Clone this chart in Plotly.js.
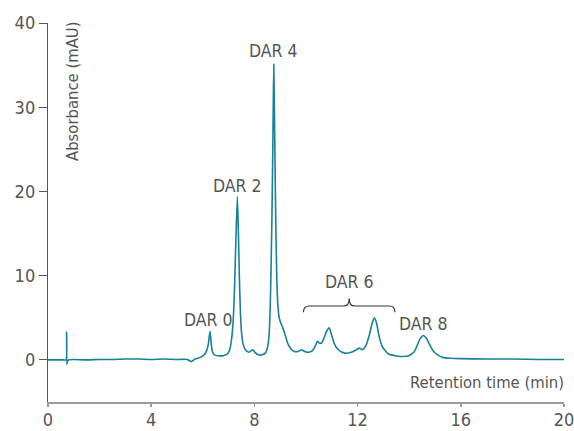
<!DOCTYPE html>
<html>
<head>
<meta charset="utf-8">
<script src="https://cdn.plot.ly/plotly-3.0.1.min.js"></script>
<style>
  html, body { margin: 0; padding: 0; background: #fff; }
  #chart { width: 574px; height: 431px; }
</style>
</head>
<body>
<div id="chart"></div>
<script>
/* ── Chromatogram (min, mAU) ── */
var time = [
  0, 0.3, 0.6, 0.7, 0.72, 0.73, 0.75, 0.8, 1.0, 1.5, 2.0, 2.5, 3.0, 3.5, 4.0, 4.5, 5.0, 5.4, 5.55, 5.7,
  5.9, 6.05, 6.15, 6.22, 6.28, 6.33, 6.38, 6.45, 6.6, 6.8, 6.95, 7.05, 7.12, 7.18, 7.23, 7.28, 7.34, 7.38,
  7.42, 7.46, 7.5, 7.56, 7.65, 7.78, 7.88, 7.94, 8.02, 8.15, 8.3, 8.42, 8.5, 8.56, 8.6, 8.64, 8.68, 8.72,
  8.75, 8.79, 8.83, 8.87, 8.91, 8.96, 9.02, 9.1, 9.2, 9.3, 9.42, 9.55, 9.7, 9.83, 9.95, 10.1, 10.25, 10.35,
  10.45, 10.52, 10.6, 10.7, 10.8, 10.9, 11.0, 11.1, 11.25, 11.5, 11.75, 11.95, 12.07, 12.18, 12.32, 12.45,
  12.56, 12.65, 12.74, 12.84, 12.97, 13.2, 13.45, 13.7, 13.95, 14.1, 14.22, 14.32, 14.42, 14.55, 14.68,
  14.81, 14.95, 15.1, 15.3, 15.6, 16.0, 17, 18, 19, 20
];
var absorbance = [
  0, 0, 0, 0, 3.3, -0.5, -0.2, 0, 0.05, 0, 0.05, 0.05, 0.1, 0.1, 0.05, 0.1, 0.05, 0.05, -0.2, 0.1,
  0.3, 0.6, 1.1, 2.0, 3.4, 1.8, 0.9, 0.6, 0.5, 0.5, 0.7, 1.3, 2.6, 4.8, 8.5, 14, 19.4, 15,
  9.5, 5.5, 3.3, 1.9, 1.2, 0.9, 1.1, 1.2, 0.9, 0.6, 0.6, 0.8, 1.4, 2.6, 5, 10, 17, 27,
  35.1, 26, 16, 9.6, 6.5, 5.0, 4.4, 3.8, 2.9, 1.9, 1.3, 1.0, 1.0, 1.2, 1.0, 0.9, 1.1, 1.6,
  2.2, 2.0, 2.0, 2.6, 3.4, 3.8, 2.9, 1.9, 1.2, 0.8, 0.9, 1.2, 1.4, 1.2, 1.7, 2.9,
  4.3, 5.0, 4.3, 2.7, 1.5, 0.7, 0.5, 0.4, 0.45, 0.7, 1.1, 1.8, 2.5, 2.9, 2.5,
  1.7, 1.0, 0.6, 0.3, 0.2, 0.15, 0.1, 0.1, 0.05, 0.05
];

/* ── Peak labels ── */
var peakNames = ['DAR 0', 'DAR 2', 'DAR 4', 'DAR 6', 'DAR 8'];
var peakLabelX = [6.24, 7.33, 8.74, 11.67, 14.55];
var peakLabelY = [4.7, 20.7, 36.7, 9.2, 4.3];

/* ── DAR 6 brace (min, mAU) ── */
var braceFrom = 9.9, braceTo = 13.45, braceLevel = 6.4, braceDrop = 0.75, braceTip = 7.3;

/* ── Axes ── */
var xTicks = [0, 4, 8, 12, 16, 20];
var yTicks = [0, 10, 20, 30, 40];

(function () {
  'use strict';

  var FONT = '"DejaVu Sans Condensed", "Liberation Sans Narrow", sans-serif';
  var GREY = '#555555';
  var LINE = '#17809a';

  /* curly brace, middle pointing up */
  function bracePath() {
    var rx = 0.22, cx = (braceFrom + braceTo) / 2, y = braceLevel;
    return 'M' + braceFrom + ',' + (y - braceDrop) +
      ' Q' + braceFrom + ',' + y + ' ' + (braceFrom + rx) + ',' + y +
      ' L' + (cx - rx) + ',' + y +
      ' Q' + cx + ',' + y + ' ' + cx + ',' + braceTip +
      ' Q' + cx + ',' + y + ' ' + (cx + rx) + ',' + y +
      ' L' + (braceTo - rx) + ',' + y +
      ' Q' + braceTo + ',' + y + ' ' + braceTo + ',' + (y - braceDrop);
  }

  var ann = peakNames.map(function (name, i) {
    return {
      x: peakLabelX[i], y: peakLabelY[i], xref: 'x', yref: 'y',
      text: name, showarrow: false,
      xanchor: 'center', yanchor: 'middle',
      font: { family: FONT, size: 17.5, color: GREY },
    };
  });

  /* y title sits inside the plot */
  ann.push({
    x: 0.0465, y: 1, xref: 'paper', yref: 'paper',
    text: 'Absorbance (mAU)', textangle: -90, showarrow: false,
    xanchor: 'center', yanchor: 'top', yshift: 4,
    font: { family: FONT, size: 16.5, color: GREY },
  });

  /* x title above the axis, right aligned */
  ann.push({
    x: 1, y: -2.7, xref: 'paper', yref: 'y',
    text: 'Retention time (min)', showarrow: false,
    xanchor: 'right', yanchor: 'middle', xshift: 2,
    font: { family: FONT, size: 16.5, color: GREY },
  });

  var traces = [{
    x: time, y: absorbance,
    mode: 'lines',
    line: { color: LINE, width: 1.6, shape: 'spline', smoothing: 0.6 },
    showlegend: false,
    hoverinfo: 'skip',
  }];

  var layout = {
    width: 574, height: 431,
    margin: { l: 48, r: 10, t: 23, b: 29 },
    paper_bgcolor: '#ffffff',
    plot_bgcolor: '#ffffff',
    font: { family: FONT, size: 18, color: GREY },
    showlegend: false,
    xaxis: {
      range: [0, 20],
      tickvals: xTicks,
      ticks: 'outside', ticklen: 3, tickcolor: '#9a9a9a', tickwidth: 1.5,
      ticklabelstandoff: -3,
      ticklabeloverflow: 'allow',
      showline: true, linecolor: '#9a9a9a', linewidth: 2,
      showgrid: false, zeroline: false,
      tickfont: { family: FONT, size: 18, color: GREY },
    },
    yaxis: {
      range: [-5, 40],
      tickvals: yTicks,
      ticks: 'outside', ticklen: 8, tickcolor: GREY, tickwidth: 1,
      showline: true, linecolor: GREY, linewidth: 1.2,
      showgrid: false, zeroline: false,
      tickfont: { family: FONT, size: 18, color: GREY },
    },
    shapes: [{
      type: 'path', xref: 'x', yref: 'y',
      path: bracePath(),
      line: { color: '#333333', width: 1.2 },
    }],
    annotations: ann,
  };

  Plotly.newPlot('chart', traces, layout, { displayModeBar: false, staticPlot: true });
})();
</script>
</body>
</html>
